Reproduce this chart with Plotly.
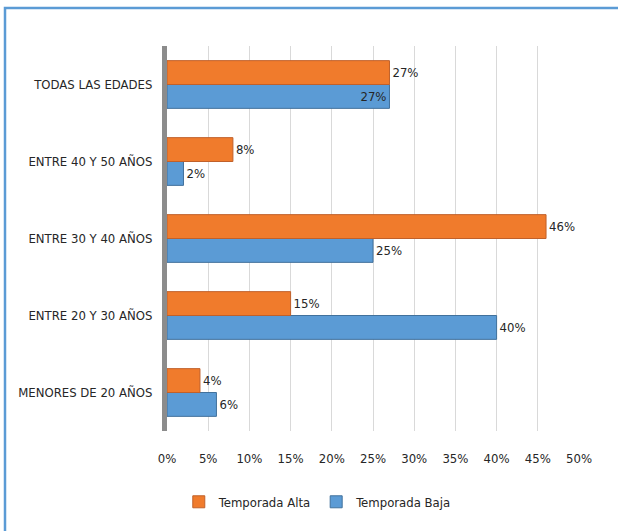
import plotly.graph_objects as go

categories = ["MENORES DE 20 AÑOS", "ENTRE 20 Y 30 AÑOS", "ENTRE 30 Y 40 AÑOS",
              "ENTRE 40 Y 50 AÑOS", "TODAS LAS EDADES"]
alta = [4, 15, 46, 8, 27]
baja = [6, 40, 25, 2, 27]
x_ticks = [0, 5, 10, 15, 20, 25, 30, 35, 40, 45, 50]
x_tick_labels = [f"{v}%" for v in x_ticks]

FONT = "DejaVu Sans Condensed, Liberation Sans Narrow, sans-serif"
TXT = "#262626"
FS = 13

baja_pos = ["inside" if c == "TODAS LAS EDADES" else "outside" for c in categories]

fig = go.Figure()
fig.add_trace(go.Bar(
    y=categories, x=baja, name="Temporada Baja", orientation="h",
    marker=dict(color="#5B9BD5", line=dict(color="#41719C", width=1)),
    text=[f"{v}%" for v in baja], textposition=baja_pos,
    insidetextanchor="end", cliponaxis=False,
    textfont=dict(family=FONT, size=FS, color=TXT),
    insidetextfont=dict(family=FONT, size=FS, color=TXT),
    outsidetextfont=dict(family=FONT, size=FS, color=TXT),
))
fig.add_trace(go.Bar(
    y=categories, x=alta, name="Temporada Alta", orientation="h",
    marker=dict(color="#F07B2C", line=dict(color="#C0602A", width=1)),
    text=[f"{v}%" for v in alta], textposition="outside", cliponaxis=False,
    textfont=dict(family=FONT, size=FS, color=TXT),
))

fig.update_layout(
    width=618, height=531,
    margin=dict(l=167, r=39, t=46, b=100, autoexpand=False),
    paper_bgcolor="white", plot_bgcolor="white",
    barmode="group", bargap=0.38, bargroupgap=0,
    font=dict(family=FONT, size=FS, color=TXT),
    legend=dict(orientation="h", traceorder="reversed",
                x=0.366, xanchor="center", y=-0.184, yanchor="middle",
                font=dict(family=FONT, size=FS, color=TXT),
                itemwidth=30, tracegroupgap=0),
    xaxis=dict(range=[0, 50], tickvals=x_ticks, ticktext=x_tick_labels,
               automargin=False,
               showgrid=True, gridcolor="#D9D9D9", gridwidth=1,
               zeroline=False, showline=False, ticks="",
               ticklabelstandoff=18,
               tickfont=dict(family=FONT, size=FS, color=TXT)),
    yaxis=dict(categoryorder="array", categoryarray=categories,
               automargin=False,
               range=[-0.5, 4.5], showgrid=False, zeroline=False,
               showline=True, linecolor="#8C8C8C", linewidth=5,
               ticks="", ticklabelstandoff=7,
               tickfont=dict(family=FONT, size=FS, color=TXT)),
    shapes=[dict(type="rect", xref="paper", yref="paper",
                 x0=(5 - 167) / 412, x1=1.2, y0=-0.5, y1=(431 - 8) / 385,
                 line=dict(color="#5B9BD5", width=2.5), fillcolor="rgba(0,0,0,0)",
                 layer="below")],
)

fig.write_html("out.html", config={"displayModeBar": False},
               post_script="document.body.style.margin='0';document.body.style.overflow='hidden';")
